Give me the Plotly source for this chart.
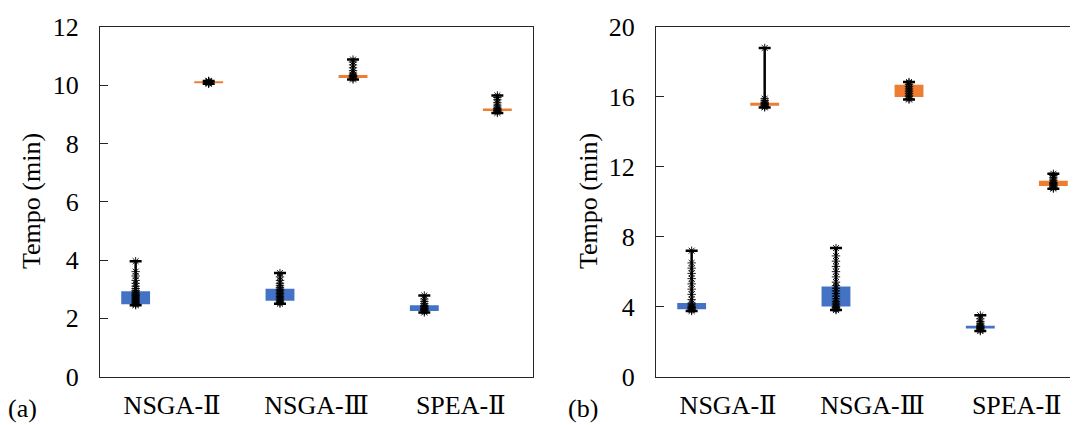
import plotly.graph_objects as go

W, H = 1078, 425
S = 8  # page body offset in the browser

categories = ["NSGA-Ⅱ", "NSGA-Ⅲ", "SPEA-Ⅱ"]

# ---------- Panel (a) ----------
a_blue_q1 = [2.48, 2.60, 2.25]
a_blue_q3 = [2.93, 3.01, 2.45]
a_blue_min = [2.45, 2.50, 2.20]
a_blue_max = [3.96, 3.55, 2.78]
a_orange_q1 = [10.07, 10.25, 9.12]
a_orange_q3 = [10.14, 10.35, 9.20]
a_orange_min = [10.05, 10.20, 9.05]
a_orange_max = [10.15, 10.88, 9.65]

a_blue_pts = [
    [2.45, 2.48, 2.5, 2.53, 2.56, 2.6, 2.63, 2.67, 2.7, 2.74, 2.78, 2.82, 2.86, 2.9, 2.95, 3.02, 3.1, 3.2, 3.3, 3.45, 3.6, 3.96],
    [2.5, 2.54, 2.58, 2.62, 2.66, 2.7, 2.75, 2.8, 2.85, 2.9, 2.95, 3.0, 3.06, 3.12, 3.2, 3.3, 3.42, 3.55],
    [2.2, 2.24, 2.27, 2.3, 2.33, 2.36, 2.4, 2.44, 2.5, 2.58, 2.66, 2.78],
]
a_orange_pts = [
    [10.05, 10.07, 10.09, 10.1, 10.11, 10.12, 10.14, 10.15],
    [10.2, 10.24, 10.28, 10.3, 10.33, 10.36, 10.42, 10.5, 10.6, 10.7, 10.8, 10.88],
    [9.05, 9.1, 9.13, 9.16, 9.2, 9.25, 9.32, 9.4, 9.5, 9.58, 9.65],
]

# ---------- Panel (b) ----------
b_blue_q1 = [3.85, 4.00, 2.74]
b_blue_q3 = [4.20, 5.15, 2.90]
b_blue_min = [3.75, 3.80, 2.60]
b_blue_max = [7.20, 7.35, 3.50]
b_orange_q1 = [15.50, 16.00, 10.90]
b_orange_q3 = [15.67, 16.70, 11.20]
b_orange_min = [15.40, 15.85, 10.75]
b_orange_max = [18.80, 16.85, 11.60]

b_blue_pts = [
    [3.75, 3.8, 3.85, 3.9, 3.95, 4.0, 4.1, 4.2, 4.4, 4.7, 5.0, 5.3, 5.6, 5.9, 6.2, 6.5, 7.2],
    [3.8, 3.85, 3.9, 3.95, 4.0, 4.1, 4.2, 4.3, 4.45, 4.6, 4.75, 4.9, 5.05, 5.2, 5.4, 5.7, 6.0, 6.3, 6.6, 6.9, 7.35],
    [2.6, 2.65, 2.7, 2.75, 2.8, 2.85, 2.9, 2.95, 3.05, 3.15, 3.3, 3.5],
]
b_orange_pts = [
    [15.4, 15.45, 15.5, 15.55, 15.6, 15.65, 15.7, 15.8, 15.9, 18.8],
    [15.85, 15.9, 16.0, 16.1, 16.2, 16.3, 16.4, 16.5, 16.6, 16.7, 16.8, 16.85],
    [10.75, 10.8, 10.85, 10.9, 10.95, 11.0, 11.05, 11.1, 11.2, 11.3, 11.4, 11.5, 11.6],
]

BLUE = "#4472C4"
ORANGE = "#ED7D31"
FONT = "'Liberation Serif', 'DejaVu Serif', serif"
OFF = 0.253
BW = 0.2

fig = go.Figure()


def add_series(q1, q3, mn, mx, pts, color, offset, xa, ya):
    xs = [i + offset for i in range(len(categories))]
    fig.add_trace(go.Bar(
        x=xs, y=[b - a for a, b in zip(q1, q3)], base=q1, width=BW,
        marker=dict(color=color, line=dict(width=0)),
        xaxis=xa, yaxis=ya, showlegend=False, hoverinfo="skip"))
    fig.add_trace(go.Scatter(
        x=xs, y=mn, mode="markers", marker=dict(size=1, opacity=0),
        error_y=dict(type="data", symmetric=False,
                     array=[b - a for a, b in zip(mn, mx)],
                     arrayminus=[0] * len(mn),
                     color="black", thickness=2.5, width=6),
        xaxis=xa, yaxis=ya, showlegend=False, hoverinfo="skip"))
    px, py = [], []
    for i, p in enumerate(pts):
        px += [xs[i]] * len(p)
        py += p
    fig.add_trace(go.Scatter(
        x=px, y=py, mode="markers",
        marker=dict(symbol="asterisk-open", size=7, color="black",
                    line=dict(width=0.9, color="black")),
        xaxis=xa, yaxis=ya, showlegend=False))


add_series(a_blue_q1, a_blue_q3, a_blue_min, a_blue_max, a_blue_pts, BLUE, -OFF, "x", "y")
add_series(a_orange_q1, a_orange_q3, a_orange_min, a_orange_max, a_orange_pts, ORANGE, OFF, "x", "y")
add_series(b_blue_q1, b_blue_q3, b_blue_min, b_blue_max, b_blue_pts, BLUE, -OFF, "x2", "y2")
add_series(b_orange_q1, b_orange_q3, b_orange_min, b_orange_max, b_orange_pts, ORANGE, OFF, "x2", "y2")


def px_x(v):
    return (v - S) / W


def px_y(v):
    return 1 - (v - S) / H


ytop = px_y(27)
ybot = px_y(376.5)
cat_px = 433 / 3.0
b_left = 656
b_right_fig = W  # figure right edge in figure pixels
b_range_right = -0.5 + (b_right_fig - (b_left - S)) / cat_px

axcol = "#262626"
tickfont = dict(family=FONT, size=26, color="black")

common_x = dict(showgrid=False, zeroline=False, showline=True, linecolor=axcol,
                linewidth=1.3, mirror=True, ticks="", tickmode="array",
                tickvals=[0, 1, 2], ticktext=categories, tickfont=tickfont,
                ticklabelstandoff=5, automargin=False)
common_y = dict(showgrid=False, zeroline=False, showline=True, linecolor=axcol,
                linewidth=1.3, ticks="inside", ticklen=8, tickcolor=axcol,
                tickfont=tickfont, ticklabelstandoff=15, automargin=False)

ann_font = dict(family=FONT, size=26, color="black")

fig.update_layout(
    width=W, height=H,
    font=dict(family=FONT),
    margin=dict(l=0, r=0, t=0, b=0, autoexpand=False),
    paper_bgcolor="white", plot_bgcolor="white",
    barmode="overlay",
    xaxis=dict(domain=[px_x(100), px_x(533)], range=[-0.5, 2.5], anchor="y", **common_x),
    yaxis=dict(domain=[ybot, ytop], range=[0, 12], dtick=2, anchor="x", mirror=True, **common_y),
    xaxis2=dict(domain=[px_x(b_left), 1.0], range=[-0.5, b_range_right], anchor="y2", **common_x),
    yaxis2=dict(domain=[ybot, ytop], range=[0, 20], dtick=4, anchor="x2", mirror=False, **common_y),
    annotations=[
        dict(text="Tempo (min)", x=px_x(31), y=px_y(201), xref="paper", yref="paper",
             xanchor="center", yanchor="middle", textangle=-90, showarrow=False, font=ann_font),
        dict(text="Tempo (min)", x=px_x(588), y=px_y(201), xref="paper", yref="paper",
             xanchor="center", yanchor="middle", textangle=-90, showarrow=False, font=ann_font),
        dict(text="(a)", x=px_x(22), y=px_y(408), xref="paper", yref="paper",
             xanchor="center", yanchor="middle", showarrow=False, font=ann_font),
        dict(text="(b)", x=px_x(583), y=px_y(408), xref="paper", yref="paper",
             xanchor="center", yanchor="middle", showarrow=False, font=ann_font),
    ],
)

fig.write_html("out.html")
